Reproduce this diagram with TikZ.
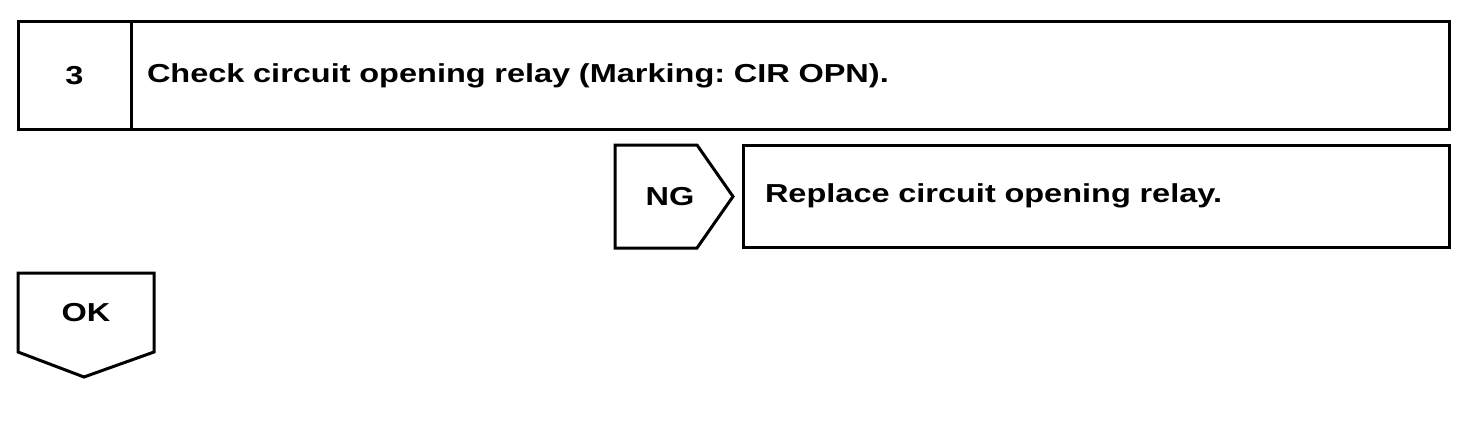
\documentclass[tikz,border=0pt]{standalone}
\usepackage{fontspec}
\setmainfont{Liberation Sans}[FakeStretch=1.25]
\usetikzlibrary{positioning, calc}
\frenchspacing

\begin{document}
\begin{tikzpicture}[x=1pt, y=1pt,
  box/.style={draw, line width=1.5pt, outer sep=0pt, inner sep=0pt, font=\bfseries\fontsize{13}{15}\selectfont},
  lab/.style={outer sep=0pt, inner sep=0pt, font=\bfseries\fontsize{13}{15}\selectfont},
  outline/.style={draw, line width=1.5pt, line join=miter}
]
\useasboundingbox (0,0) rectangle (736,212);

% step header
\node[box, minimum width=56.5pt, minimum height=53.5pt, anchor=north west] (num) at (9,201) {\raisebox{-1pt}{3}};
\node[box, minimum width=659pt, minimum height=53.5pt, anchor=west, text width=643pt, inner xsep=8pt, align=left] (check) at (num.east) {\raisebox{-2pt}{Check circuit opening relay (Marking: CIR OPN).}};

% NG branch
\node[lab, minimum width=59pt, minimum height=51.5pt, anchor=north west] (ng) at (307.5,139.5) {\hspace*{-4pt}NG};
\draw[outline] (ng.north west) -- ($(ng.north east)+(-18,0)$) -- (ng.east) -- ($(ng.south east)+(-18,0)$) -- (ng.south west) -- cycle;
\node[box, minimum width=353pt, minimum height=51pt, anchor=north west, text width=331pt, inner xsep=11pt, align=left] (replace) at (371.5,139.5) {\raisebox{-1pt}{Replace circuit opening relay.}};

% OK branch
\node[lab, minimum width=68pt, minimum height=39.5pt, anchor=north west] (ok) at (9,75.5) {OK};
\draw[outline] (ok.south east) -- (ok.north east) -- (ok.north west) -- (ok.south west) -- ($(ok.south)+(-1,-12.5)$) -- cycle;

\end{tikzpicture}
\end{document}
